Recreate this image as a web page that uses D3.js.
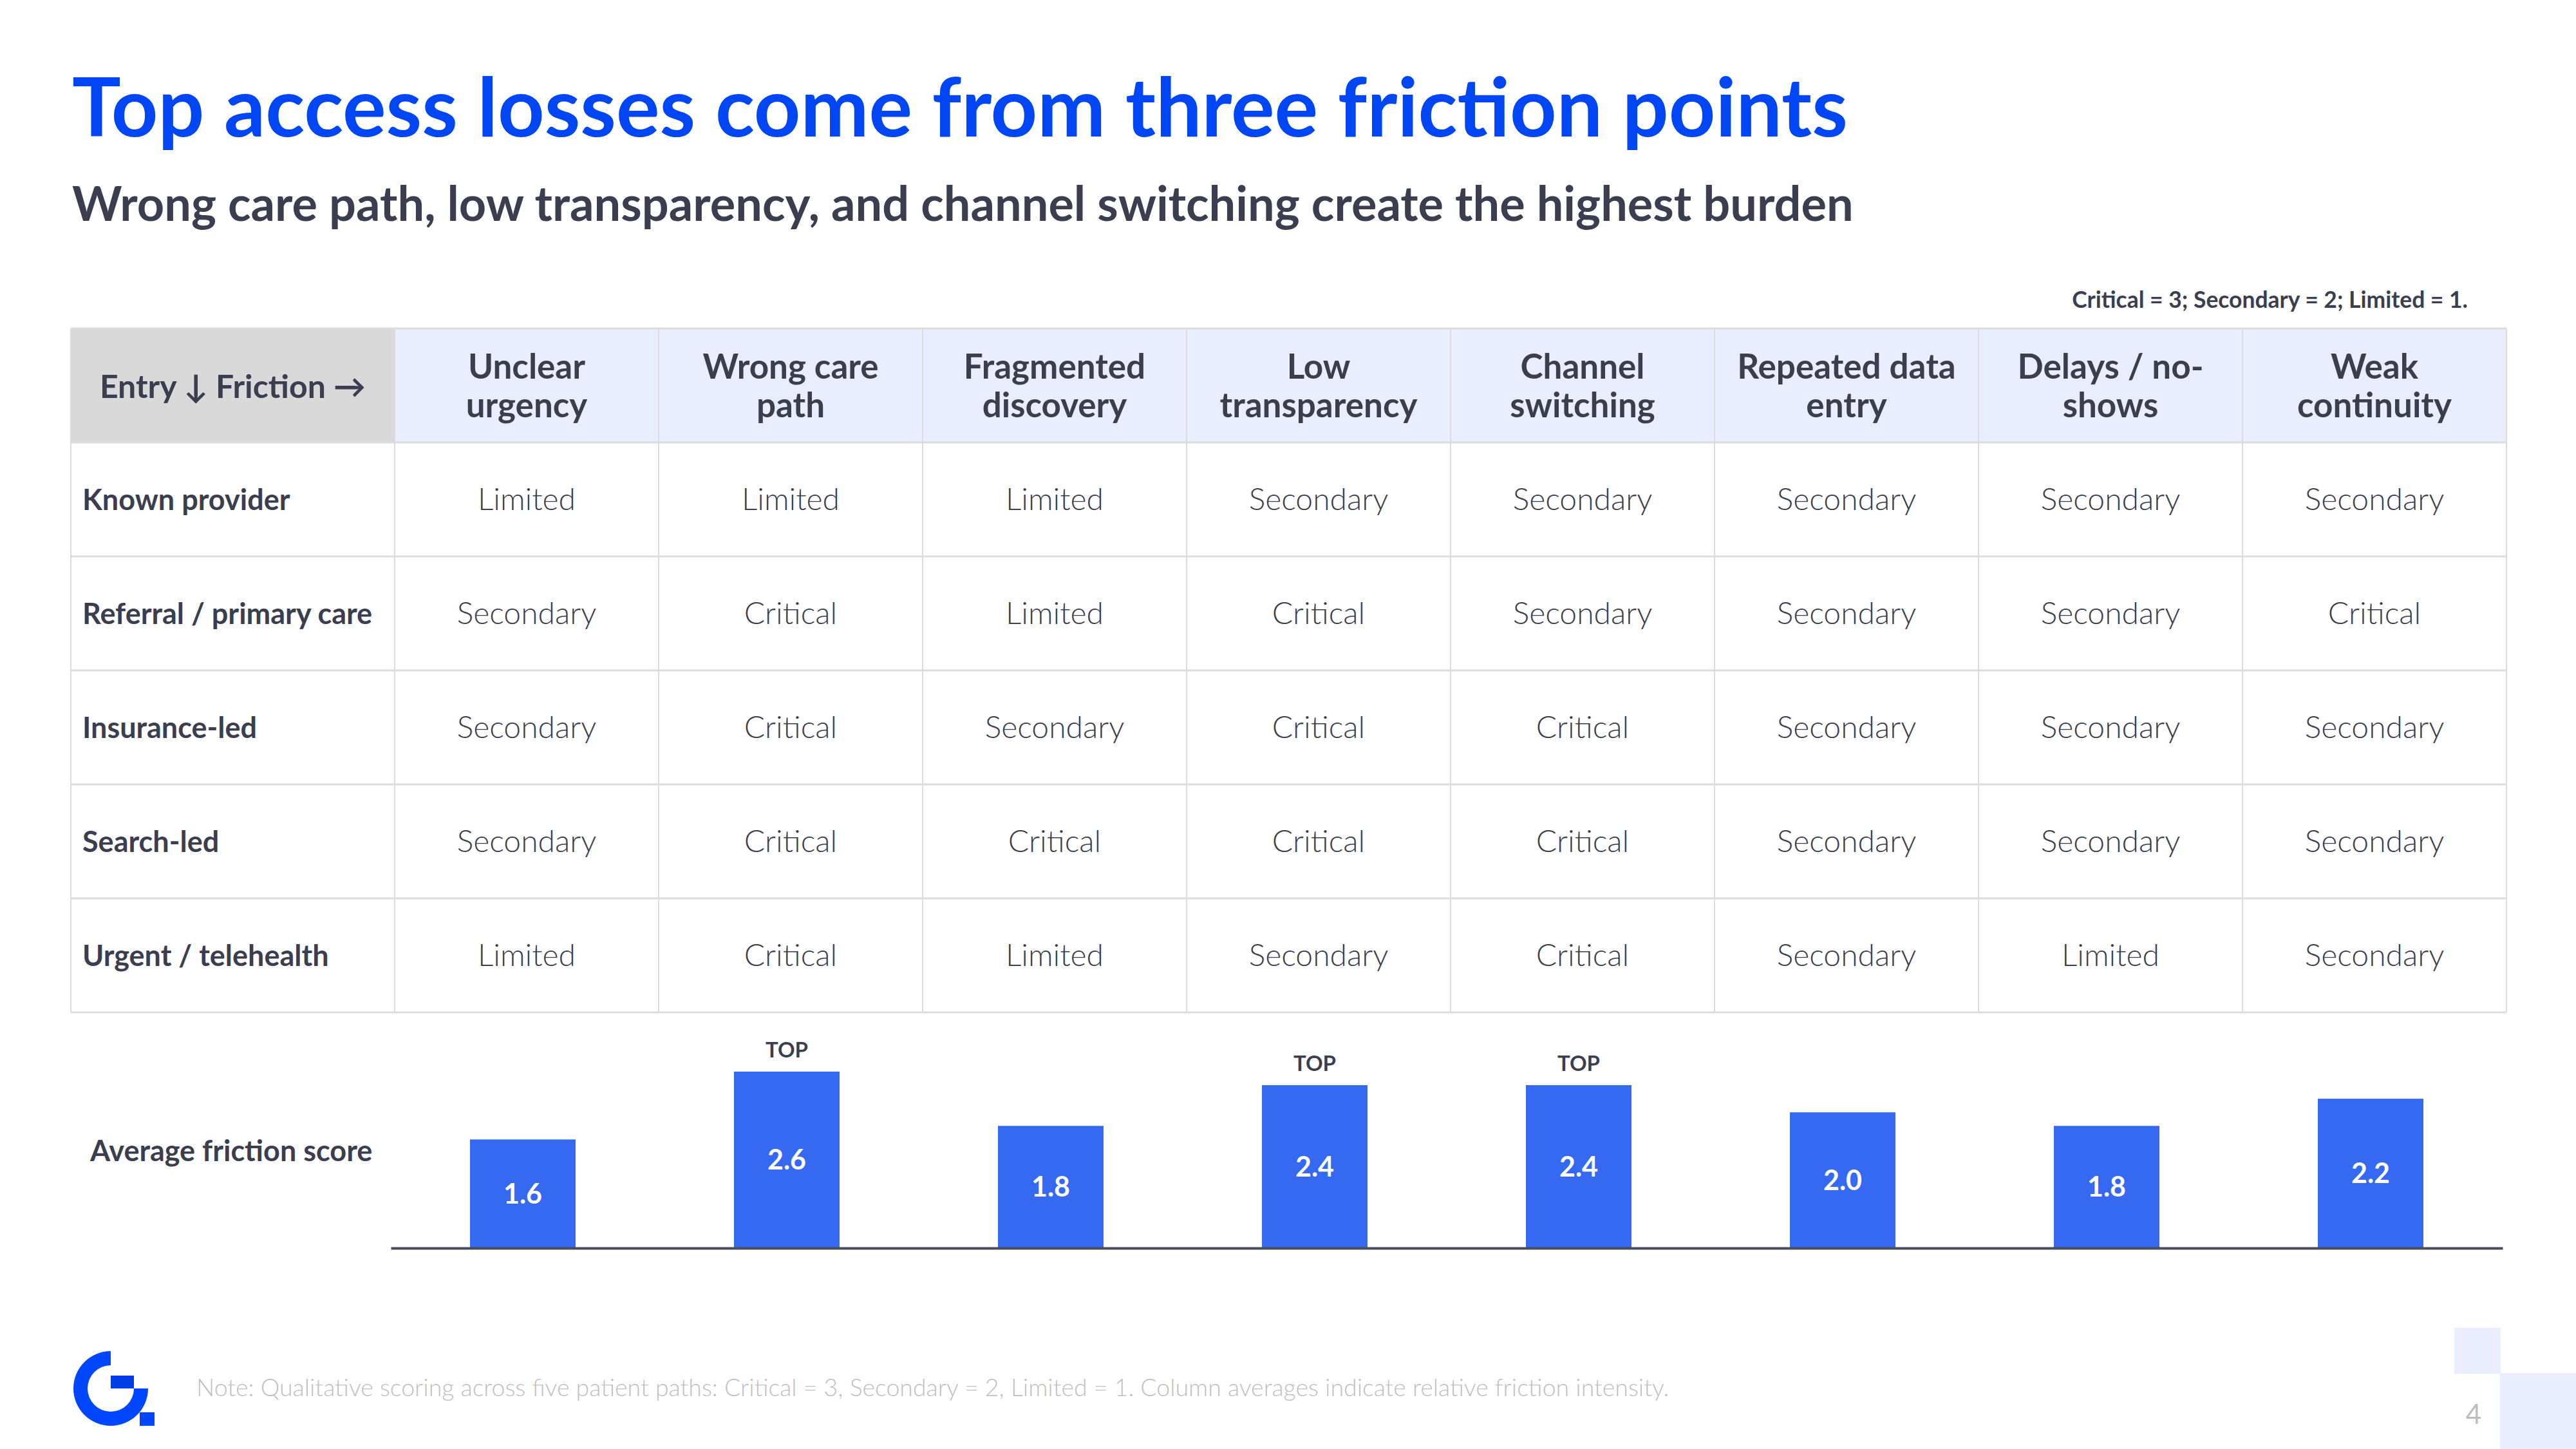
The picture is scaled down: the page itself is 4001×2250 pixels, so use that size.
<!DOCTYPE html>
<html>
<head>
<meta charset="utf-8">
<script src="https://cdn.jsdelivr.net/npm/d3@7"></script>
<style>
  html, body { margin: 0; padding: 0; background: #fff; }
  svg { display: block; font-family: Lato, "Noto Sans", sans-serif; }
</style>
</head>
<body>
<svg id="chart" width="4001" height="2250"></svg>
<script>
// data
const entries = ["Known provider", "Referral / primary care", "Insurance-led", "Search-led", "Urgent / telehealth"];
const frictions = ["Unclear\nurgency", "Wrong care\npath", "Fragmented\ndiscovery", "Low\ntransparency",
                   "Channel\nswitching", "Repeated data\nentry", "Delays / no-\nshows", "Weak\ncontinuity"];
const knownProvider   = ["Limited", "Limited", "Limited", "Secondary", "Secondary", "Secondary", "Secondary", "Secondary"];
const referralPrimary = ["Secondary", "Critical", "Limited", "Critical", "Secondary", "Secondary", "Secondary", "Critical"];
const insuranceLed    = ["Secondary", "Critical", "Secondary", "Critical", "Critical", "Secondary", "Secondary", "Secondary"];
const searchLed       = ["Secondary", "Critical", "Critical", "Critical", "Critical", "Secondary", "Secondary", "Secondary"];
const urgentTele      = ["Limited", "Critical", "Limited", "Secondary", "Critical", "Secondary", "Limited", "Secondary"];
const avgScores = [1.6, 2.6, 1.8, 2.4, 2.4, 2.0, 1.8, 2.2];
const topFlags  = [false, true, false, true, true, false, false, false];

const title = "Top access losses come from three friction points";
const subtitle = "Wrong care path, low transparency, and channel switching create the highest burden";
const legendText = "Critical = 3; Secondary = 2; Limited = 1.";
const noteText = "Note: Qualitative scoring across five patient paths: Critical = 3, Secondary = 2, Limited = 1. Column averages indicate relative friction intensity.";
const pageNo = "4";

const rowsData = [knownProvider, referralPrimary, insuranceLed, searchLed, urgentTele];

const blue = "#0046F5", barBlue = "#3669F1", ink = "#3B3E4F", grid = "#DCDCE0";
const svg = d3.select("#chart");

// fit text width to the reference span
function fitWidth(sel, target) {
  const w = sel.node().getComputedTextLength();
  const fs = parseFloat(sel.attr("font-size"));
  sel.attr("font-size", fs * target / w);
}

// titles
svg.append("text").attr("x", 112).attr("y", 212)
  .attr("font-size", 118).attr("font-weight", 700).attr("fill", blue)
  .text(title).call(fitWidth, 2758);
svg.append("text").attr("x", 112).attr("y", 343)
  .attr("font-size", 66).attr("font-weight", 700).attr("fill", ink)
  .text(subtitle).call(fitWidth, 2767);
svg.append("text").attr("x", 3833).attr("y", 478).attr("text-anchor", "end")
  .attr("font-size", 32).attr("font-weight", 700).attr("fill", ink)
  .text(legendText).call(fitWidth, 615);

// table scales
const tableLeft = 110, headTop = 510, headBottom = 687;
const x = d3.scaleBand().domain(frictions).range([613, 3893]);
const y = d3.scaleBand().domain(entries).range([headBottom, 1572]);

const table = svg.append("g");
table.append("rect").attr("x", tableLeft).attr("y", headTop)
  .attr("width", x.range()[0] - tableLeft).attr("height", headBottom - headTop).attr("fill", "#D9D9D9");
table.selectAll("rect.head").data(frictions).join("rect").attr("class", "head")
  .attr("x", d => x(d)).attr("y", headTop).attr("width", x.bandwidth()).attr("height", headBottom - headTop)
  .attr("fill", "#E8EEFD");

// grid lines
const hLines = [headTop, headBottom].concat(entries.map(e => y(e) + y.bandwidth()));
table.selectAll("line.h").data(hLines).join("line")
  .attr("x1", tableLeft).attr("x2", x.range()[1]).attr("y1", d => d).attr("y2", d => d)
  .attr("stroke", grid).attr("stroke-width", 3);
const vLines = [tableLeft].concat(frictions.map(f => x(f)), [x.range()[1]]);
table.selectAll("line.v").data(vLines).join("line")
  .attr("x1", d => d).attr("x2", d => d).attr("y1", headTop).attr("y2", y.range()[1])
  .attr("stroke", grid).attr("stroke-width", 2);

// header labels
table.append("text").attr("x", (tableLeft + x.range()[0]) / 2).attr("y", 618)
  .attr("text-anchor", "middle").attr("font-size", 50).attr("font-weight", 700).attr("fill", ink)
  .text("Entry ↓ Friction →");
const headText = table.selectAll("text.head").data(frictions).join("text").attr("class", "head")
  .attr("text-anchor", "middle").attr("font-size", 53).attr("font-weight", 700).attr("fill", ink);
headText.selectAll("tspan").data(d => d.split("\n").map(t => ({ t, f: d }))).join("tspan")
  .attr("x", d => x(d.f) + x.bandwidth() / 2)
  .attr("y", (d, i) => 588 + i * 60)
  .text(d => d.t);

// row labels
table.selectAll("text.row").data(entries).join("text").attr("class", "row")
  .attr("x", 128).attr("y", d => y(d) + y.bandwidth() / 2 + 16)
  .attr("font-size", 45).attr("font-weight", 700).attr("fill", ink).text(d => d);

// cells
const cells = rowsData.flatMap((row, i) => row.map((v, j) => ({ r: entries[i], c: frictions[j], v })));
table.selectAll("text.cell").data(cells).join("text").attr("class", "cell")
  .attr("x", d => x(d.c) + x.bandwidth() / 2).attr("y", d => y(d.r) + y.bandwidth() / 2 + 16)
  .attr("text-anchor", "middle").attr("font-size", 48).attr("font-weight", 300).attr("fill", ink)
  .text(d => d.v);

// bar chart
const xb = d3.scaleBand().domain(frictions).range([607, 3887]).paddingInner(0.6).paddingOuter(0.3);
const yb = d3.scaleLinear().domain([0, 3]).range([1938, 1938 - 3 * 105.4]);
const bars = avgScores.map((v, i) => ({ f: frictions[i], v, top: topFlags[i] }));

svg.append("text").attr("x", 140).attr("y", 1803)
  .attr("font-size", 45).attr("font-weight", 700).attr("fill", ink).text("Average friction score");

svg.selectAll("rect.bar").data(bars).join("rect").attr("class", "bar")
  .attr("x", d => xb(d.f)).attr("y", d => yb(d.v))
  .attr("width", xb.bandwidth()).attr("height", d => yb(0) - yb(d.v)).attr("fill", barBlue);

svg.selectAll("text.val").data(bars).join("text").attr("class", "val")
  .attr("x", d => xb(d.f) + xb.bandwidth() / 2).attr("y", d => (yb(d.v) + yb(0)) / 2 + 15)
  .attr("text-anchor", "middle").attr("font-size", 43).attr("font-weight", 700).attr("fill", "#fff")
  .text(d => d3.format(".1f")(d.v));

svg.selectAll("text.top").data(bars.filter(d => d.top)).join("text").attr("class", "top")
  .attr("x", d => xb(d.f) + xb.bandwidth() / 2).attr("y", d => yb(d.v) - 22)
  .attr("text-anchor", "middle").attr("font-size", 33).attr("font-weight", 700).attr("fill", ink)
  .text("TOP");

const axis = svg.append("g").attr("transform", `translate(0,${yb(0)})`)
  .call(d3.axisBottom(xb).tickSize(0).tickFormat(""));
axis.select(".domain").attr("stroke", "#4A4D5C").attr("stroke-width", 4);

// footer
const logo = svg.append("g").attr("transform", "translate(172,2156)").attr("fill", "#0046FF");
logo.append("path").attr("d", d3.arc()({ innerRadius: 36, outerRadius: 58, startAngle: Math.PI / 2, endAngle: 2 * Math.PI }));
logo.append("rect").attr("x", 0).attr("y", -20).attr("width", 36).attr("height", 20).attr("fill", "#003FE6");
logo.append("rect").attr("x", 45).attr("y", 37).attr("width", 23).attr("height", 21);

svg.append("text").attr("x", 305).attr("y", 2168)
  .attr("font-size", 32).attr("font-weight", 300).attr("fill", "#BFBFBF")
  .text(noteText).call(fitWidth, 2288);

svg.append("rect").attr("x", 3812).attr("y", 2062).attr("width", 72).attr("height", 71).attr("fill", "#E8EEFD");
svg.append("rect").attr("x", 3883).attr("y", 2132).attr("width", 118).attr("height", 118).attr("fill", "#E8EEFD");
svg.append("text").attr("x", 3842).attr("y", 2211).attr("text-anchor", "middle")
  .attr("font-size", 42).attr("fill", "#BDBDBD").text(pageNo);
</script>
</body>
</html>
